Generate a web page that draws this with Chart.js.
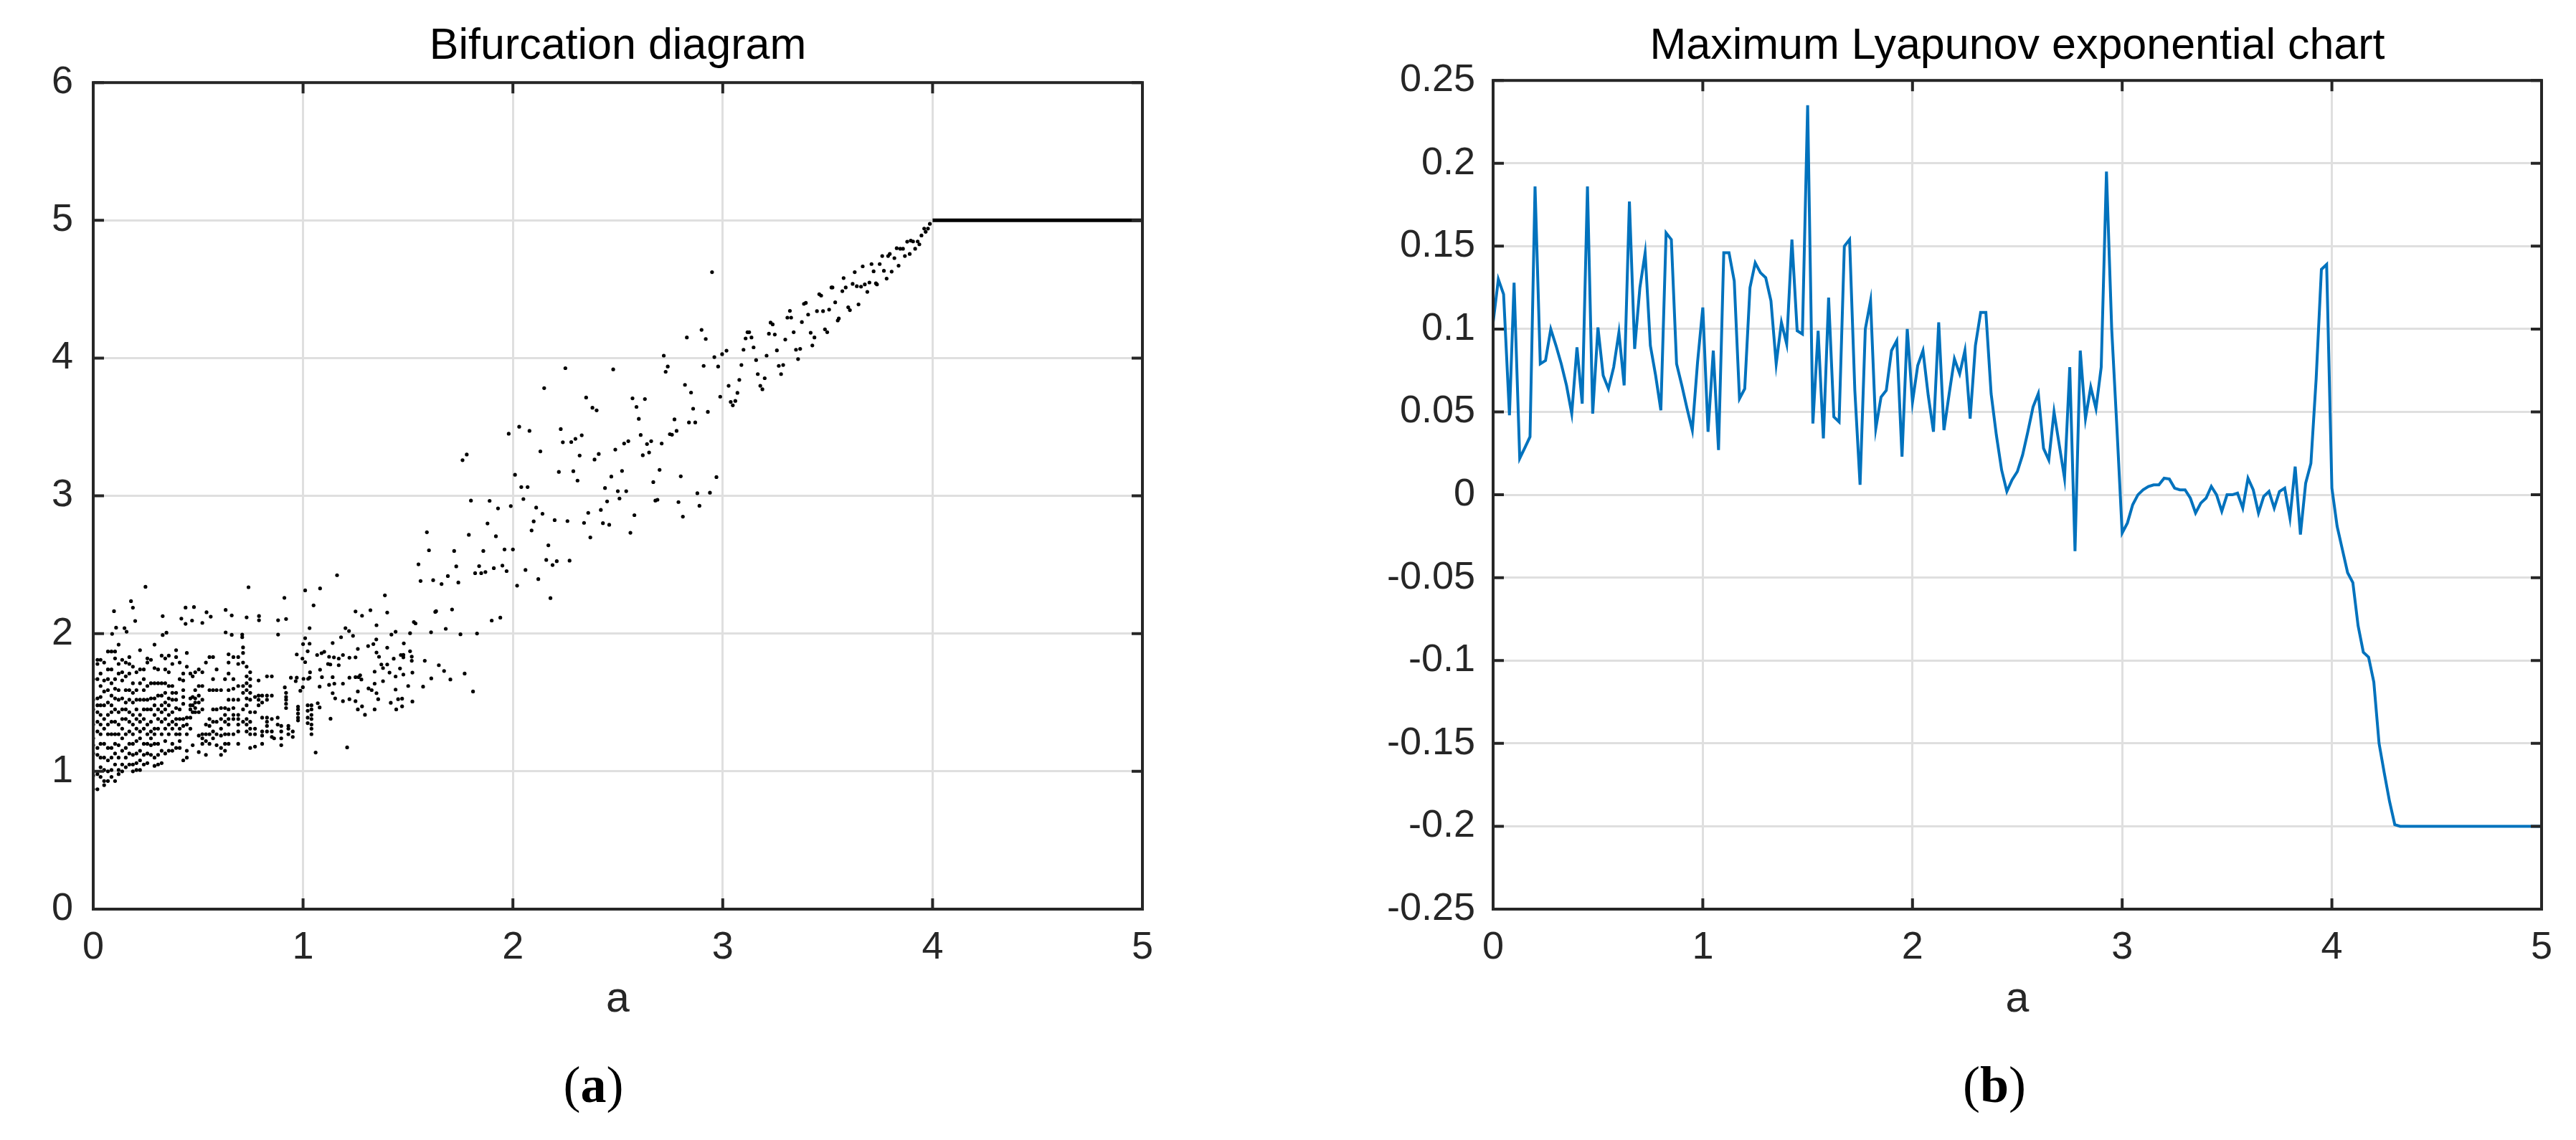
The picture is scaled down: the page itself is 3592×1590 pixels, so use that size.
<!DOCTYPE html>
<html>
<head>
<meta charset="utf-8">
<title>Bifurcation diagram / Maximum Lyapunov exponential chart</title>
<script src="https://cdn.jsdelivr.net/npm/chart.js@4.4.1/dist/chart.umd.min.js"></script>
<style>
  html, body { margin: 0; padding: 0; background: #fff; }
  #page { position: relative; width: 3592px; height: 1590px; }
  .panel { position: absolute; top: 0; width: 1796px; height: 1590px; }
</style>
</head>
<body>
<div id="page">
  <div class="panel" style="left:0"><canvas id="bifChart"></canvas></div>
  <div class="panel" style="left:1796px"><canvas id="lyapChart"></canvas></div>
</div>
<script>
// ---- data ----
var xTicks = [0, 1, 2, 3, 4, 5];
var bifYTicks = [0, 1, 2, 3, 4, 5, 6];
var lyapYTicks = [-0.25, -0.2, -0.15, -0.1, -0.05, 0, 0.05, 0.1, 0.15, 0.2, 0.25];

// dense cluster, read as vertical streaks: [a, [x values]]
var bifCols = [
  [0.00, [1.67, 1.52, 1.45, 1.34, 1.24, 1.19, 1.13, 0.97, 0.87]],
  [0.02, [1.81, 1.78, 1.67, 1.53, 1.48, 1.43, 1.36, 1.29, 1.17, 1.12, 0.98, 0.87]],
  [0.035, [1.81, 1.71, 1.62, 1.54, 1.48, 1.41, 1.34, 1.27, 1.2, 1.1, 1.03, 0.96]],
  [0.052, [1.79, 1.66, 1.58, 1.48, 1.38, 1.31, 1.2, 1.1, 1.01, 0.93, 0.9]],
  [0.07, [1.87, 1.74, 1.67, 1.59, 1.5, 1.41, 1.34, 1.27, 1.17, 1.08, 1.0, 0.93]],
  [0.087, [1.87, 1.74, 1.64, 1.55, 1.48, 1.43, 1.36, 1.27, 1.17, 1.1, 1.01, 0.96]],
  [0.104, [1.87, 1.82, 1.67, 1.6, 1.53, 1.45, 1.36, 1.27, 1.2, 1.13, 1.05, 0.93]],
  [0.121, [1.92, 1.78, 1.71, 1.59, 1.52, 1.43, 1.34, 1.27, 1.19, 1.1, 1.01, 0.98]],
  [0.138, [1.81, 1.72, 1.66, 1.53, 1.45, 1.38, 1.31, 1.24, 1.15, 1.05, 1.0]],
  [0.155, [1.79, 1.69, 1.59, 1.5, 1.45, 1.38, 1.27, 1.17, 1.1, 1.03]],
  [0.172, [1.83, 1.78, 1.71, 1.59, 1.52, 1.43, 1.36, 1.29, 1.2, 1.13, 1.05]],
  [0.189, [1.76, 1.64, 1.57, 1.5, 1.41, 1.34, 1.27, 1.2, 1.12, 1.05, 1.0]],
  [0.206, [1.72, 1.59, 1.52, 1.45, 1.38, 1.31, 1.22, 1.13, 1.06, 1.01]],
  [0.223, [1.88, 1.74, 1.64, 1.52, 1.41, 1.36, 1.29, 1.24, 1.15, 1.08, 1.01]],
  [0.241, [1.74, 1.67, 1.59, 1.52, 1.45, 1.38, 1.31, 1.2, 1.12, 1.05]],
  [0.258, [1.82, 1.79, 1.62, 1.52, 1.45, 1.34, 1.27, 1.2, 1.13, 1.06]],
  [0.275, [1.81, 1.64, 1.53, 1.45, 1.36, 1.29, 1.24, 1.19, 1.12]],
  [0.292, [1.92, 1.75, 1.64, 1.53, 1.48, 1.41, 1.31, 1.27, 1.2, 1.1, 1.04]],
  [0.309, [1.74, 1.64, 1.55, 1.45, 1.38, 1.31, 1.2, 1.12, 1.05]],
  [0.326, [1.84, 1.64, 1.55, 1.48, 1.43, 1.36, 1.27, 1.15, 1.06]],
  [0.343, [1.82, 1.74, 1.64, 1.57, 1.5, 1.45, 1.38, 1.31, 1.22, 1.13]],
  [0.36, [1.84, 1.72, 1.62, 1.53, 1.48, 1.41, 1.34, 1.27, 1.15]],
  [0.377, [1.78, 1.62, 1.57, 1.52, 1.43, 1.36, 1.31, 1.2, 1.15]],
  [0.395, [1.88, 1.83, 1.57, 1.52, 1.46, 1.38, 1.34, 1.27, 1.17]],
  [0.412, [1.79, 1.67, 1.45, 1.38, 1.31, 1.27, 1.22, 1.17]],
  [0.429, [1.71, 1.66, 1.59, 1.54, 1.49, 1.38, 1.33, 1.08]],
  [0.446, [1.86, 1.76, 1.39, 1.34, 1.27, 1.15, 1.1]],
  [0.463, [1.71, 1.53, 1.48, 1.45, 1.39, 1.31]],
  [0.474, [1.69, 1.54, 1.48, 1.43, 1.19]],
  [0.486, [1.72, 1.59, 1.53, 1.5, 1.46, 1.43]],
  [0.503, [1.74, 1.62, 1.55, 1.5, 1.43, 1.26, 1.14]],
  [0.52, [1.72, 1.62, 1.52, 1.45, 1.27, 1.24, 1.2]],
  [0.537, [1.79, 1.34, 1.27, 1.22, 1.12]],
  [0.554, [1.83, 1.59, 1.38, 1.33, 1.27, 1.2]],
  [0.571, [1.83, 1.67, 1.59, 1.45, 1.36, 1.29, 1.24]],
  [0.588, [1.74, 1.59, 1.45, 1.36, 1.27, 1.19]],
  [0.609, [1.59, 1.46, 1.38, 1.31, 1.26, 1.17, 1.12]],
  [0.628, [1.67, 1.46, 1.41, 1.36, 1.27, 1.2, 1.15]],
  [0.645, [1.85, 1.79, 1.71, 1.59, 1.52, 1.45, 1.38, 1.34, 1.27, 1.2]],
  [0.668, [1.83, 1.67, 1.6, 1.52, 1.46, 1.41, 1.38, 1.27]],
  [0.691, [1.83, 1.78, 1.62, 1.52, 1.41, 1.38, 1.34, 1.29, 1.2]],
  [0.714, [1.9, 1.86, 1.79, 1.62, 1.57, 1.45, 1.36]],
  [0.731, [1.76, 1.69, 1.64, 1.59, 1.53, 1.48, 1.38, 1.34, 1.29]],
  [0.748, [1.72, 1.67, 1.62, 1.57, 1.52, 1.43, 1.36, 1.31, 1.27, 1.17]],
  [0.771, [1.54, 1.43, 1.31, 1.27, 1.18]],
  [0.788, [1.66, 1.55, 1.52, 1.48]],
  [0.805, [1.55, 1.5, 1.39, 1.29, 1.26, 1.2]],
  [0.828, [1.69, 1.55, 1.52, 1.39, 1.36, 1.33, 1.29]],
  [0.851, [1.69, 1.55, 1.38, 1.29, 1.25]],
  [0.862, [1.24]],
  [0.879, [1.39, 1.34]],
  [0.896, [1.33, 1.29, 1.24, 1.19]],
  [0.913, [1.61]],
  [0.919, [1.57, 1.54, 1.52, 1.49, 1.46]],
  [0.93, [1.33, 1.31, 1.27]],
  [0.951, [1.29, 1.25]],
  [0.976, [1.47, 1.45, 1.42, 1.39, 1.37]],
  [1.022, [1.48, 1.44, 1.39, 1.35]],
  [1.04, [1.48, 1.45, 1.41, 1.38, 1.34, 1.31, 1.27]]
];

// scattered points around the cluster: [a, x]
var bifSparse = [
  [0.249, 2.34], [0.18, 2.236], [0.189, 2.188], [0.099, 2.163], [0.2, 2.092], [0.109, 2.043],
  [0.149, 2.04], [0.159, 2.014], [0.09, 1.998], [0.331, 2.127], [0.349, 2.007], [0.331, 1.99],
  [0.44, 2.189], [0.48, 2.193], [0.42, 2.109], [0.44, 2.071], [0.471, 2.095], [0.52, 2.078],
  [0.54, 2.155], [0.56, 2.123], [0.631, 2.172], [0.66, 2.132], [0.74, 2.337], [0.731, 2.118],
  [0.79, 2.128], [0.79, 2.097], [0.881, 2.097], [0.919, 2.106], [0.911, 2.26], [0.631, 2.009],
  [0.66, 1.991], [0.71, 1.993], [0.71, 1.974], [0.881, 1.993], [1.01, 2.314], [1.081, 2.328],
  [1.05, 2.205], [1.031, 2.04], [1.01, 1.967], [1.162, 2.424], [1.25, 2.161], [1.281, 2.13],
  [1.321, 2.17], [1.39, 2.278], [1.401, 2.153], [1.35, 2.061], [1.202, 2.04], [1.219, 2.019],
  [1.238, 1.984], [1.181, 1.974], [1.421, 1.993], [1.441, 2.014],
  [1.141, 1.932], [1.261, 1.889], [1.31, 1.91], [1.335, 1.924], [1.349, 1.958], [1.401, 1.898],
  [1.35, 1.863], [1.362, 1.832], [1.466, 1.845], [1.478, 1.828], [1.432, 1.818], [1.672, 1.729],
  [1.702, 1.667], [1.611, 1.675], [1.572, 1.615], [1.521, 1.717], [1.501, 1.62], [1.478, 1.703],
  [1.462, 1.747], [1.441, 1.689], [1.441, 1.594], [1.412, 1.717], [1.401, 1.776], [1.373, 1.776],
  [1.381, 1.75], [1.381, 1.655], [1.341, 1.724], [1.341, 1.637], [1.35, 1.568], [1.358, 1.524],
  [1.312, 1.602], [1.327, 1.59], [1.261, 1.58], [1.265, 1.684], [1.272, 1.698], [1.25, 1.684],
  [1.221, 1.68], [1.19, 1.637], [1.278, 1.667], [1.418, 1.498], [1.453, 1.524], [1.472, 1.528],
  [1.521, 1.507], [1.444, 1.45], [1.472, 1.472], [1.341, 1.45], [1.281, 1.472], [1.261, 1.45],
  [1.25, 1.51], [1.221, 1.524], [1.19, 1.51], [1.295, 1.411], [1.153, 1.53], [1.141, 1.568],
  [1.124, 1.628], [1.149, 1.637], [1.17, 1.771], [1.141, 1.684], [1.13, 1.776], [1.119, 1.78],
  [1.088, 1.858], [1.101, 1.868], [1.124, 1.832], [1.147, 1.828], [1.17, 1.819], [1.19, 1.845],
  [1.221, 1.825], [1.25, 1.828], [1.067, 1.845], [1.081, 1.738], [1.09, 1.684], [1.079, 1.615],
  [1.079, 1.464], [1.07, 1.495], [1.131, 1.382], [1.21, 1.174], [1.06, 1.137], [1.033, 1.719],
  [1.022, 1.872], [1.031, 1.927], [1.0, 1.924], [0.97, 1.849], [1.81, 1.58], [1.77, 1.71],
  [0.965, 1.655], [0.987, 1.585], [0.999, 1.611], [1.002, 1.672], [1.024, 1.672], [1.031, 1.68],
  [1.01, 1.793], [0.997, 1.819], [0.97, 1.68], [0.942, 1.68]
];

// rising branch from a = 1.5 up to 4: [a, x]
var bifUpper = [
  [3.987, 4.975], [3.967, 4.917], [3.978, 4.94], [3.96, 4.94], [3.947, 4.89], [3.937, 4.826],
  [3.929, 4.847], [3.917, 4.794], [3.907, 4.847], [3.896, 4.853], [3.879, 4.845], [3.891, 4.756],
  [3.868, 4.741], [3.859, 4.794], [3.846, 4.794], [3.829, 4.798], [3.838, 4.671], [3.818, 4.726],
  [3.805, 4.628], [3.796, 4.756], [3.788, 4.741], [3.768, 4.634], [3.781, 4.577], [3.76, 4.741],
  [3.748, 4.683], [3.719, 4.63], [3.735, 4.535], [3.73, 4.543], [3.709, 4.683], [3.699, 4.549],
  [3.689, 4.481], [3.677, 4.535], [3.667, 4.666], [3.659, 4.519], [3.639, 4.522], [3.647, 4.39],
  [3.629, 4.624], [3.619, 4.539], [3.606, 4.348], [3.598, 4.369], [3.586, 4.513], [3.576, 4.581],
  [3.57, 4.486], [3.553, 4.288], [3.548, 4.273], [3.536, 4.405], [3.523, 4.513], [3.518, 4.513],
  [3.507, 4.352], [3.498, 4.188], [3.487, 4.209], [3.478, 4.341], [3.469, 4.454], [3.46, 4.464],
  [3.449, 4.341], [3.437, 4.15], [3.427, 4.092], [3.419, 4.184], [3.407, 4.316], [3.396, 4.401],
  [3.387, 4.394], [3.377, 4.262], [3.369, 4.067], [3.359, 3.993], [3.349, 4.061], [3.338, 4.188],
  [3.326, 4.294], [3.32, 4.343], [3.308, 4.294], [3.298, 4.135], [3.288, 3.95], [3.278, 3.884],
  [3.267, 3.944], [3.258, 4.056], [3.248, 4.171], [3.238, 4.245], [3.228, 4.258], [3.22, 4.177],
  [3.209, 4.018], [3.2, 3.854], [3.189, 3.774], [3.179, 3.799], [3.167, 3.884], [3.159, 3.986],
  [3.147, 4.078], [3.137, 4.15], [3.126, 4.188], [3.118, 4.188], [3.109, 4.143], [3.099, 4.061],
  [3.089, 3.95], [3.079, 3.842], [3.07, 3.748], [3.06, 3.689], [3.048, 3.657], [3.038, 3.682],
  [3.028, 3.799], [3.018, 4.054], [2.997, 4.029], [2.988, 3.72], [2.978, 3.939], [2.97, 3.136],
  [2.96, 4.007], [2.949, 4.624], [2.939, 3.023], [2.929, 3.61], [2.919, 4.139], [2.909, 3.944],
  [2.899, 4.205], [2.889, 2.928], [2.879, 3.019], [2.869, 3.533], [2.859, 3.633], [2.849, 3.75],
  [2.839, 3.533], [2.829, 4.15], [2.82, 3.806], [2.81, 2.849], [2.8, 3.142], [2.789, 2.955],
  [2.78, 3.472], [2.77, 3.555], [2.758, 3.444], [2.748, 3.448], [2.738, 3.939], [2.728, 3.901],
  [2.719, 4.018], [2.709, 3.38], [2.699, 3.189], [2.689, 2.972], [2.679, 2.966], [2.669, 3.1],
  [2.659, 3.397], [2.649, 3.315], [2.639, 3.376], [2.629, 3.703], [2.619, 3.295], [2.609, 3.442],
  [2.6, 3.559], [2.589, 3.646], [2.579, 2.86], [2.57, 3.708], [2.56, 2.732], [2.55, 3.397],
  [2.54, 3.034], [2.53, 3.38], [2.52, 3.181], [2.508, 2.981], [2.5, 3.034], [2.488, 3.336],
  [2.478, 3.918], [2.469, 3.14], [2.459, 2.79], [2.449, 2.96], [2.439, 3.057], [2.429, 2.802],
  [2.419, 2.898], [2.409, 3.304], [2.399, 3.621], [2.389, 3.264], [2.379, 3.64], [2.369, 2.698],
  [2.359, 2.877], [2.349, 3.714], [2.339, 2.804], [2.328, 3.44], [2.318, 3.293], [2.308, 3.111],
  [2.298, 3.414], [2.288, 3.179], [2.278, 3.391], [2.27, 2.53], [2.26, 2.817], [2.25, 3.927],
  [2.238, 3.389], [2.228, 3.485], [2.219, 3.174], [2.209, 2.526], [2.199, 2.824], [2.189, 2.498],
  [2.179, 2.258], [2.169, 2.641], [2.159, 2.535], [2.149, 3.782], [2.141, 2.87], [2.131, 3.323],
  [2.121, 2.396], [2.111, 2.915], [2.099, 2.815], [2.089, 2.749], [2.079, 3.472], [2.07, 3.064],
  [2.06, 2.462], [2.05, 2.977], [2.04, 3.064], [2.03, 3.502], [2.02, 2.348], [2.01, 3.153],
  [2.0, 2.611], [1.99, 2.926], [1.98, 3.451], [1.97, 2.454], [1.96, 2.611], [1.95, 2.494],
  [1.94, 2.116], [1.929, 2.909], [1.919, 2.707], [1.909, 2.475], [1.899, 2.095], [1.889, 2.964],
  [1.879, 2.8], [1.869, 2.447], [1.859, 2.6], [1.849, 2.439], [1.839, 2.49], [1.829, 2.001],
  [1.82, 2.439], [1.8, 2.966], [1.79, 2.717], [1.78, 3.3], [1.76, 3.259], [1.75, 1.995],
  [1.74, 2.371], [1.73, 2.488], [1.72, 2.6], [1.71, 2.175], [1.69, 2.418], [1.68, 2.035],
  [1.66, 2.36], [1.647, 1.771], [1.634, 2.163], [1.63, 2.158], [1.62, 2.388], [1.61, 2.01],
  [1.6, 2.605], [1.59, 2.736], [1.58, 1.803], [1.56, 2.382], [1.55, 2.503], [1.536, 2.074],
  [1.528, 2.084], [1.518, 1.803], [1.518, 1.833], [1.51, 2.003], [1.51, 1.872], [1.48, 1.929],
  [1.478, 1.846]
];

// fixed point x = 5 for a >= 4
var flatA = [4, 5];
var flatX = [5, 5];

var lyapA = [
  0, 0.025, 0.05, 0.078, 0.1, 0.127, 0.15, 0.176, 0.2, 0.225, 0.25, 0.275, 0.3, 0.325, 0.35, 0.375,
  0.4, 0.425, 0.45, 0.475, 0.5, 0.525, 0.55, 0.575, 0.6, 0.625, 0.65, 0.675, 0.7, 0.725, 0.75, 0.775,
  0.8, 0.825, 0.85, 0.875, 0.9, 0.925, 0.95, 0.975, 1.0, 1.025, 1.05, 1.075, 1.1, 1.125, 1.15, 1.175,
  1.2, 1.225, 1.25, 1.275, 1.3, 1.325, 1.35, 1.375, 1.4, 1.425, 1.45, 1.475, 1.5, 1.525, 1.55, 1.575,
  1.6, 1.625, 1.65, 1.675, 1.7, 1.725, 1.75, 1.775, 1.8, 1.825, 1.85, 1.875, 1.9, 1.925, 1.95, 1.975,
  2.0, 2.025, 2.05, 2.075, 2.1, 2.125, 2.15, 2.175, 2.2, 2.225, 2.25, 2.275, 2.3, 2.325, 2.35, 2.375,
  2.4, 2.425, 2.45, 2.475, 2.5, 2.525, 2.55, 2.575, 2.6, 2.625, 2.65, 2.675, 2.7, 2.725, 2.75, 2.775,
  2.8, 2.825, 2.85, 2.875, 2.9, 2.925, 2.95, 2.975, 3.0, 3.025, 3.05, 3.075, 3.1, 3.125, 3.15, 3.175,
  3.2, 3.225, 3.25, 3.275, 3.3, 3.325, 3.35, 3.375, 3.4, 3.425, 3.45, 3.475, 3.5, 3.525, 3.55, 3.575,
  3.6, 3.625, 3.65, 3.675, 3.7, 3.725, 3.75, 3.775, 3.8, 3.825, 3.85, 3.875, 3.9, 3.925, 3.95, 3.975,
  4.0, 4.025, 4.05, 4.075, 4.1, 4.125, 4.15, 4.175, 4.2, 4.225, 4.25, 4.275, 4.3, 4.325, 5.0
];
var lyapV = [
  0.104, 0.13, 0.121, 0.048, 0.128, 0.022, 0.028, 0.035, 0.186, 0.079, 0.081, 0.1, 0.09, 0.079, 0.066, 0.049,
  0.089, 0.055, 0.186, 0.049, 0.101, 0.072, 0.064, 0.077, 0.098, 0.066, 0.177, 0.088, 0.125, 0.146, 0.09, 0.072,
  0.051, 0.158, 0.154, 0.079, 0.066, 0.052, 0.039, 0.08, 0.113, 0.038, 0.087, 0.027, 0.146, 0.146, 0.129, 0.058,
  0.064, 0.125, 0.14, 0.134, 0.131, 0.117, 0.079, 0.104, 0.091, 0.154, 0.099, 0.097, 0.235, 0.043, 0.099, 0.034,
  0.119, 0.047, 0.044, 0.15, 0.154, 0.063, 0.006, 0.1, 0.117, 0.04, 0.059, 0.063, 0.087, 0.093, 0.023, 0.1,
  0.056, 0.078, 0.087, 0.06, 0.038, 0.104, 0.039, 0.061, 0.082, 0.073, 0.087, 0.046, 0.09, 0.11, 0.11, 0.061,
  0.036, 0.015, 0.002, 0.009, 0.014, 0.024, 0.038, 0.053, 0.061, 0.028, 0.021, 0.05, 0.03, 0.01, 0.077, -0.034,
  0.087, 0.046, 0.065, 0.052, 0.077, 0.195, 0.1, 0.04, -0.023, -0.017, -0.006, 0.0, 0.003, 0.005, 0.006, 0.006,
  0.01, 0.0095, 0.004, 0.003, 0.003, -0.002, -0.011, -0.005, -0.002, 0.005, 0.0, -0.01, 0.0, 0.0, 0.001, -0.008,
  0.01, 0.003, -0.011, -0.001, 0.002, -0.008, 0.002, 0.004, -0.014, 0.017, -0.024, 0.007, 0.019, 0.07, 0.136, 0.139,
  0.004, -0.019, -0.033, -0.047, -0.053, -0.079, -0.095, -0.098, -0.113, -0.15, -0.168, -0.185, -0.199, -0.2, -0.2
];

// ---- helpers ----
Chart.defaults.font.family = '"Liberation Sans", Arial, Helvetica, sans-serif';
Chart.defaults.color = '#262626';

var INK = '#262626';
var GRID = '#dfdfdf';

function toXY(a, v) {
  var pts = [];
  for (var i = 0; i < a.length; i++) pts.push({ x: a[i], y: v[i] });
  return pts;
}

function scatterPoints() {
  var pts = [];
  bifCols.forEach(function (c) {
    c[1].forEach(function (v) { pts.push({ x: c[0], y: v }); });
  });
  bifSparse.concat(bifUpper).forEach(function (p) { pts.push({ x: p[0], y: p[1] }); });
  return pts;
}

// MATLAB style box with inward tick marks on all four sides
var boxPlugin = {
  id: 'matlabBox',
  afterDatasetsDraw: function (chart, args, opts) {
    var ctx = chart.ctx, ca = chart.chartArea;
    var xs = chart.scales.x, ys = chart.scales.y;
    var len = opts.tickLength || 15;
    ctx.save();
    ctx.strokeStyle = INK;
    ctx.lineWidth = 4;
    ctx.beginPath();
    xs.ticks.forEach(function (t) {
      var px = xs.getPixelForValue(t.value);
      ctx.moveTo(px, ca.bottom); ctx.lineTo(px, ca.bottom - len);
      ctx.moveTo(px, ca.top); ctx.lineTo(px, ca.top + len);
    });
    ys.ticks.forEach(function (t) {
      var py = ys.getPixelForValue(t.value);
      ctx.moveTo(ca.left, py); ctx.lineTo(ca.left + len, py);
      ctx.moveTo(ca.right, py); ctx.lineTo(ca.right - len, py);
    });
    ctx.stroke();
    ctx.strokeRect(ca.left, ca.top, ca.right - ca.left, ca.bottom - ca.top);
    ctx.restore();
  }
};

// "(a)" / "(b)" panel caption under each plot
var captionPlugin = {
  id: 'panelCaption',
  afterDraw: function (chart, args, opts) {
    var ctx = chart.ctx, ca = chart.chartArea;
    var reg = '72px "Liberation Serif", "DejaVu Serif", serif';
    var bold = 'bold 72px "Liberation Serif", "DejaVu Serif", serif';
    ctx.save();
    ctx.fillStyle = '#000';
    ctx.textBaseline = 'middle';
    ctx.textAlign = 'left';
    ctx.font = reg;
    var wo = ctx.measureText('(').width, wc = ctx.measureText(')').width;
    ctx.font = bold;
    var wl = ctx.measureText(opts.letter).width;
    var x = (ca.left + ca.right) / 2 + opts.shift - (wo + wl + wc) / 2;
    ctx.font = reg; ctx.fillText('(', x, opts.y); x += wo;
    ctx.font = bold; ctx.fillText(opts.letter, x, opts.y); x += wl;
    ctx.font = reg; ctx.fillText(')', x, opts.y);
    ctx.restore();
  }
};

function xAxis() {
  return {
    type: 'linear', min: 0, max: 5,
    afterBuildTicks: function (s) { s.ticks = xTicks.map(function (v) { return { value: v }; }); },
    afterFit: function (s) { s.height = 170; },
    ticks: { font: { size: 54 }, color: INK, padding: 22 },
    grid: { color: GRID, lineWidth: 3, drawTicks: false },
    border: { display: false },
    title: { display: true, text: 'a', color: INK, font: { size: 59 }, padding: { top: 0, bottom: 8 } }
  };
}

function yAxis(min, max, values, width, pad, fmt) {
  return {
    type: 'linear', min: min, max: max,
    afterBuildTicks: function (s) { s.ticks = values.map(function (v) { return { value: v }; }); },
    afterFit: function (s) { s.width = width; },
    ticks: { font: { size: 54 }, color: INK, padding: pad, callback: fmt },
    grid: { color: GRID, lineWidth: 3, drawTicks: false },
    border: { display: false }
  };
}

function titleOpts(text, bottomPad) {
  return {
    display: true, text: text, color: '#000', fullSize: false,
    font: { size: 61, weight: 'normal' },
    padding: { top: 29, bottom: bottomPad }
  };
}

// ---- left: bifurcation diagram ----
new Chart(document.getElementById('bifChart'), {
  type: 'scatter',
  data: {
    datasets: [{
      data: scatterPoints(),
      pointRadius: 2.6,
      pointBorderWidth: 0,
      pointBackgroundColor: '#000',
      pointStyle: 'circle'
    }, {
      type: 'line',
      data: toXY(flatA, flatX),
      borderColor: '#000',
      borderWidth: 5,
      pointRadius: 0
    }]
  },
  options: {
    responsive: true,
    maintainAspectRatio: false,
    animation: false,
    events: [],
    layout: { padding: { left: 0, right: 203, top: 0, bottom: 152 } },
    scales: {
      x: xAxis(),
      y: yAxis(0, 6, bifYTicks, 130, 28, function (v) { return String(v); })
    },
    plugins: {
      legend: { display: false },
      tooltip: { enabled: false },
      title: titleOpts('Bifurcation diagram', 13),
      matlabBox: { tickLength: 15 },
      panelCaption: { letter: 'a', y: 1518, shift: -34 }
    }
  },
  plugins: [boxPlugin, captionPlugin]
});

// ---- right: maximum Lyapunov exponent ----
new Chart(document.getElementById('lyapChart'), {
  type: 'line',
  data: {
    datasets: [{
      data: toXY(lyapA, lyapV),
      borderColor: '#0072BD',
      borderWidth: 4,
      pointRadius: 0,
      tension: 0,
      fill: false
    }]
  },
  options: {
    responsive: true,
    maintainAspectRatio: false,
    animation: false,
    events: [],
    layout: { padding: { left: 0, right: 48, top: 0, bottom: 152 } },
    scales: {
      x: xAxis(),
      y: yAxis(-0.25, 0.25, lyapYTicks, 286, 25, function (v) { return String(+v.toFixed(2)); })
    },
    plugins: {
      legend: { display: false },
      tooltip: { enabled: false },
      title: titleOpts('Maximum Lyapunov exponential chart', 10),
      matlabBox: { tickLength: 15 },
      panelCaption: { letter: 'b', y: 1518, shift: -32 }
    }
  },
  plugins: [boxPlugin, captionPlugin]
});
</script>
</body>
</html>
